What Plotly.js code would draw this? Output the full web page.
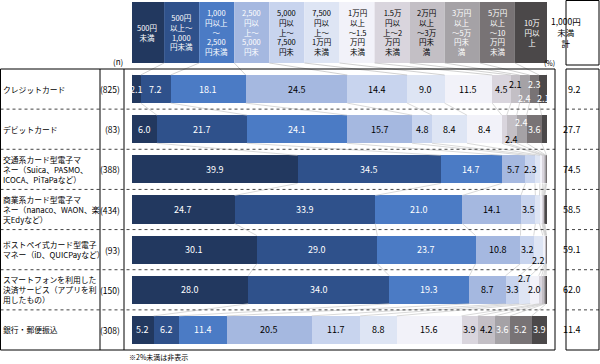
<!DOCTYPE html>
<html>
<head>
<meta charset="utf-8">
<script src="https://cdn.plot.ly/plotly-3.0.1.min.js"></script>
<style>html,body{margin:0;padding:0;background:#fff;}#chart{width:600px;height:364px;}</style>
</head>
<body>
<div id="chart"></div>
<script>
// ---- data ----
const categories = [
  '500円<br>未満',
  '500円<br>以上～<br>1,000<br>円未満',
  '1,000<br>円以上<br>～<br>2,500<br>円未満',
  '2,500<br>円以<br>上～<br>5,000<br>円未',
  '5,000<br>円以<br>上～<br>7,500<br>円未',
  '7,500<br>円以<br>上～<br>1万円<br>未満',
  '1万円<br>以上<br>～1.5<br>万円<br>未満',
  '1.5万<br>円以<br>上～2<br>万円<br>未満',
  '2万円<br>以上<br>～3万<br>円未<br>満',
  '3万円<br>以上<br>～5万<br>円未<br>満',
  '5万円<br>以上<br>～10<br>万円<br>未満',
  '10万<br>円以<br>上'
];
const rowLabels = [
  'クレジットカード',
  'デビットカード',
  '交通系カード型電子マ<br>ネー（Suica、PASMO、<br>ICOCA、PiTaPaなど）',
  '商業系カード型電子マ<br>ネー（nanaco、WAON、楽<br>天Edyなど）',
  'ポストペイ式カード型電子<br>マネー（iD、QUICPayなど）',
  'スマートフォンを利用した<br>決済サービス（アプリを利<br>用したもの）',
  '銀行・郵便振込'
];
const nLabels = ['(825)', '(83)', '(388)', '(434)', '(93)', '(150)', '(308)'];
const under1000 = ['9.2', '27.7', '74.5', '58.5', '59.1', '62.0', '11.4'];

const credit    = [2.1, 7.2, 18.1, 24.5, 14.4, 9.0, 11.5, 4.5, 2.1, 2.4, 2.3, 2.1];
const debit     = [6.0, 21.7, 24.1, 15.7, 4.8, 8.4, 8.4, 1.2, 2.4, 2.4, 3.6, 1.3];
const transit   = [39.9, 34.5, 14.7, 5.7, 2.3, 1.2, 0.6, 0.4, 0.3, 0.2, 0.1, 0.1];
const retail    = [24.7, 33.9, 21.0, 14.1, 3.5, 1.0, 0.6, 0.2, 0.2, 0.1, 0.2, 0.5];
const postpay   = [30.1, 29.0, 23.7, 10.8, 3.2, 2.2, 0.4, 0.2, 0.1, 0.1, 0.1, 0.1];
const smartphone= [28.0, 34.0, 19.3, 8.7, 3.3, 2.7, 2.0, 0.7, 0.5, 0.3, 0.3, 0.2];
const bank      = [5.2, 6.2, 11.4, 20.5, 11.7, 8.8, 15.6, 3.9, 4.2, 3.6, 5.2, 3.9];
const rows = [credit, debit, transit, retail, postpay, smartphone, bank];

// ---- styling ----
const FONT = '"Noto Sans CJK JP", "Noto Sans", sans-serif';
const colors = ['#22385f', '#2f518b', '#4b7bc5', '#a5b8e0', '#c8d4ee', '#dee5f4',
                '#f2f2f9', '#d9d5dd', '#c3bfc5', '#a5a2a6', '#787375', '#4b4849'];
const barTextColors = ['#fff','#fff','#fff','#000','#000','#000','#000','#000','#000','#fff','#fff','#fff'];
const headerTextColors = ['#fff','#fff','#fff','#fff','#000','#000','#000','#000','#000','#fff','#fff','#fff'];
// staggered small labels: "row-segment" -> vertical pixel shift
const labelShift = {'0-8': 5, '0-9': -9, '0-10': 5, '0-11': -9, '1-8': -10, '1-9': 7, '4-5': -11, '5-5': 11};

const px2x = p => (p - 132) / 415;     // pixel -> paper x
const px2y = p => (350 - p) / 281;     // pixel -> paper y
const BW = 0.7;
const hx0 = -0.72, hw = 101.44 / 12;   // header boxes in data x units

const traces = categories.map((c, j) => ({
  type: 'bar', orientation: 'h',
  y: rows.map((r, i) => i),
  x: rows.map(r => r[j]),
  width: BW,
  marker: {color: colors[j], line: {width: 0}},
  hoverinfo: 'skip', showlegend: false
}));

const cums = rows.map(r => { const c = [0]; r.forEach(v => c.push(c[c.length - 1] + v)); return c; });

const annotations = [];
const shapes = [];

// bar labels
rows.forEach((r, i) => {
  r.forEach((v, j) => {
    if (v < 2) return;
    annotations.push({
      xref: 'x', yref: 'y', x: cums[i][j] + v / 2, y: i, text: v.toFixed(1),
      showarrow: false, yshift: labelShift[i + '-' + j] || 0,
      font: {family: FONT, size: 9, color: barTextColors[j]}
    });
  });
  annotations.push({xref: 'paper', yref: 'y', x: px2x(1), y: i, xanchor: 'left', align: 'left',
    text: rowLabels[i], showarrow: false, font: {family: FONT, size: 7.8, color: '#000'}});
  annotations.push({xref: 'paper', yref: 'y', x: px2x(122), y: i, xanchor: 'right',
    text: nLabels[i], showarrow: false, font: {family: FONT, size: 8.5, color: '#000'}});
  annotations.push({xref: 'paper', yref: 'y', x: px2x(583), y: i,
    text: under1000[i], showarrow: false, font: {family: FONT, size: 9, color: '#000'}});
});

// header boxes
categories.forEach((c, j) => {
  shapes.push({type: 'rect', xref: 'x', yref: 'paper', x0: hx0 + j * hw, x1: hx0 + (j + 1) * hw,
    y0: px2y(63), y1: px2y(2), fillcolor: colors[j], line: {width: 0}, layer: 'above'});
  annotations.push({xref: 'x', yref: 'paper', x: hx0 + (j + 0.5) * hw, y: px2y(32.5), yanchor: 'middle',
    text: c, showarrow: false, font: {family: FONT, size: 7.5, color: headerTextColors[j]}});
});
// header connector lines
for (let j = 0; j <= 12; j++) {
  shapes.push({type: 'line', xref: 'x', yref: 'paper', x0: hx0 + j * hw, y0: px2y(63),
    x1: Math.min(cums[0][j], 100), y1: 1 - (0.5 - BW / 2) / 7, line: {color: '#bcbcbc', width: 0.7}});
}
// series lines between bars
for (let i = 0; i < rows.length - 1; i++) {
  for (let j = 1; j < 12; j++) {
    shapes.push({type: 'line', xref: 'x', yref: 'y', x0: cums[i][j], y0: i + BW / 2,
      x1: cums[i + 1][j], y1: i + 1 - BW / 2, line: {color: '#c8c8c8', width: 0.7}});
  }
}
// dashed row separators
for (let i = 0; i < rows.length - 1; i++) {
  shapes.push({type: 'line', xref: 'paper', yref: 'y', x0: px2x(0.5), x1: px2x(555), y0: i + 0.5, y1: i + 0.5,
    line: {color: '#444', width: 1, dash: 'dot'}});
  shapes.push({type: 'line', xref: 'paper', yref: 'y', x0: px2x(566), x1: px2x(599), y0: i + 0.5, y1: i + 0.5,
    line: {color: '#444', width: 1, dash: 'dot'}});
}
// table frames
shapes.push({type: 'rect', xref: 'paper', yref: 'paper', x0: px2x(0.5), x1: px2x(555), y0: px2y(350), y1: px2y(69),
  line: {color: '#000', width: 1}});
shapes.push({type: 'line', xref: 'paper', yref: 'paper', x0: px2x(100), x1: px2x(100), y0: px2y(350), y1: px2y(69),
  line: {color: '#000', width: 1}});
shapes.push({type: 'line', xref: 'paper', yref: 'paper', x0: px2x(124), x1: px2x(124), y0: px2y(350), y1: px2y(69),
  line: {color: '#000', width: 1}});
shapes.push({type: 'rect', xref: 'paper', yref: 'paper', x0: px2x(566), x1: px2x(599), y0: px2y(350), y1: px2y(69),
  line: {color: '#000', width: 1}});
shapes.push({type: 'rect', xref: 'paper', yref: 'paper', x0: px2x(566), x1: px2x(599), y0: px2y(65), y1: px2y(0.5),
  line: {color: '#000', width: 1}});

annotations.push({xref: 'paper', yref: 'paper', x: px2x(583), y: px2y(32), yanchor: 'middle',
  text: '1,000円<br>未満<br>計', showarrow: false, font: {family: FONT, size: 8.5, color: '#000'}});
annotations.push({xref: 'paper', yref: 'paper', x: px2x(111), y: px2y(62), yanchor: 'middle',
  text: '(n)', showarrow: false, font: {family: FONT, size: 8, color: '#000'}});
annotations.push({xref: 'paper', yref: 'paper', x: px2x(557), y: px2y(63), yanchor: 'middle',
  text: '(%)', showarrow: false, font: {family: FONT, size: 7, color: '#000'}});
annotations.push({xref: 'paper', yref: 'paper', x: px2x(127), y: px2y(357), xanchor: 'left', yanchor: 'middle',
  text: '※2%未満は非表示', showarrow: false, font: {family: FONT, size: 7, color: '#000'}});

const layout = {
  width: 600, height: 364,
  margin: {l: 132, r: 53, t: 69, b: 14, pad: 0},
  paper_bgcolor: '#fff', plot_bgcolor: '#fff',
  barmode: 'stack', bargap: 0.3,
  showlegend: false,
  xaxis: {range: [0, 100], visible: false, fixedrange: true},
  yaxis: {range: [6.5, -0.5], visible: false, fixedrange: true},
  annotations: annotations,
  shapes: shapes,
  font: {family: FONT}
};

Plotly.newPlot('chart', traces, layout, {displayModeBar: false, staticPlot: true});
</script>
</body>
</html>
